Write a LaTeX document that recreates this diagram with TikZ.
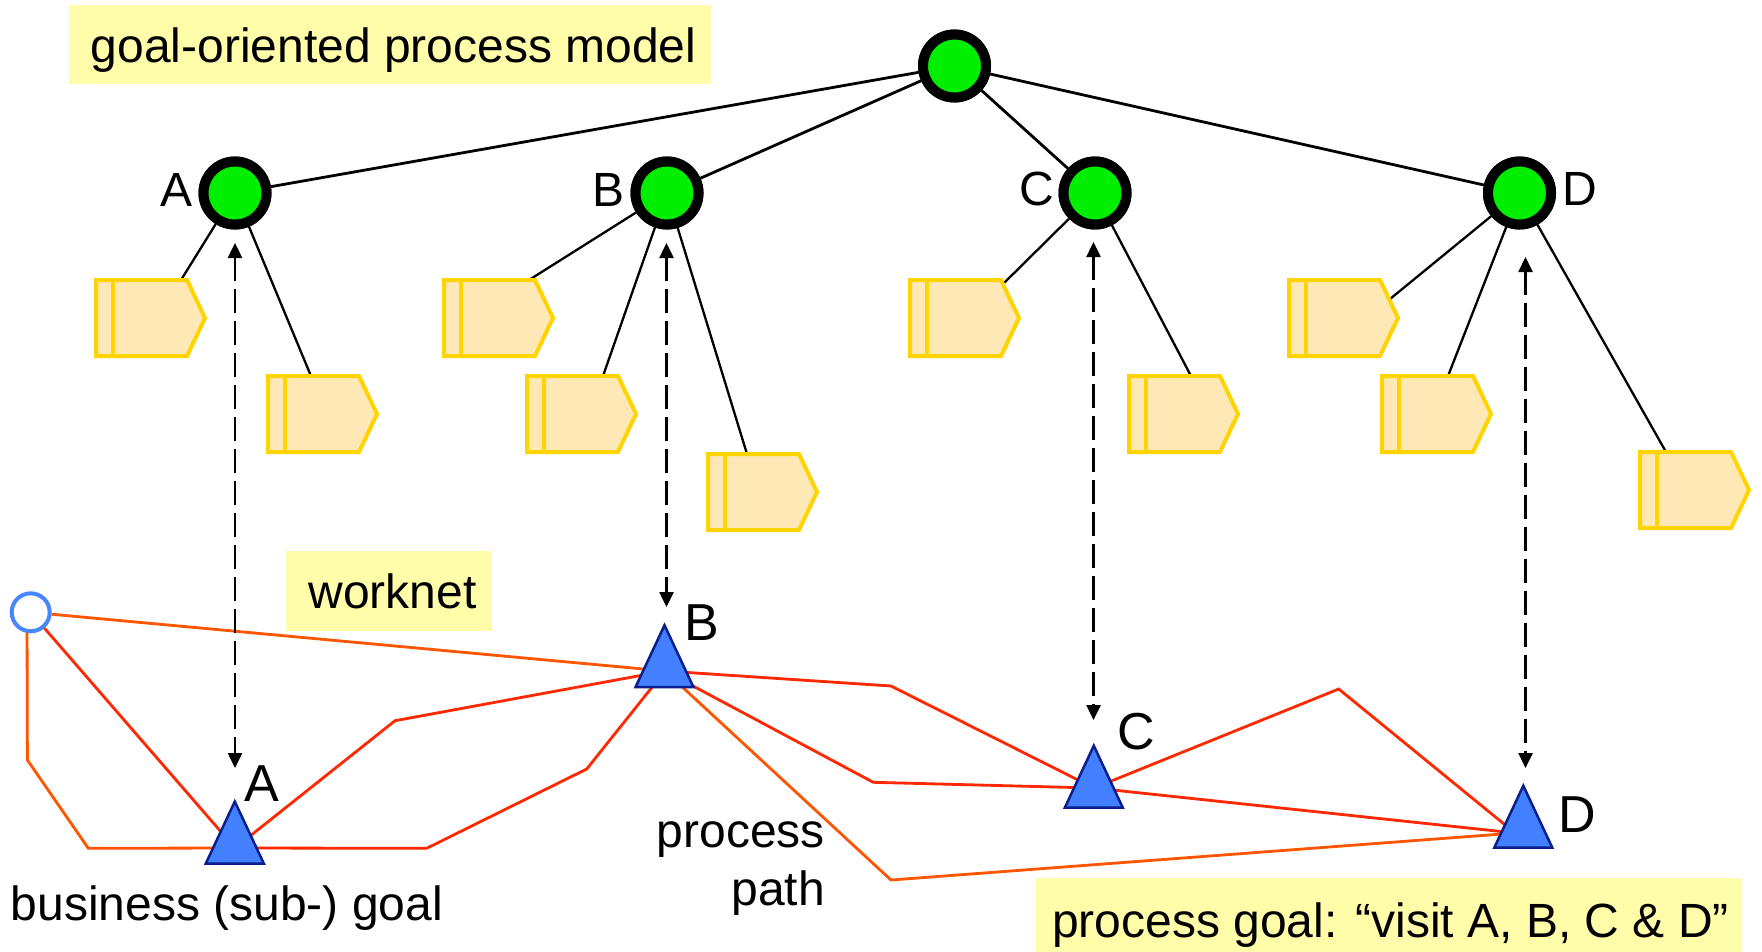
\documentclass[tikz,border=0pt]{standalone}
\usepackage{fontspec}
\setmainfont{Liberation Sans}
\usetikzlibrary{arrows.meta,calc}
\definecolor{gfill}{RGB}{0,238,0}
\definecolor{yfill}{RGB}{253,232,182}
\definecolor{ystrokec}{RGB}{255,212,0}
\definecolor{boxy}{RGB}{255,252,170}
\definecolor{tfill}{RGB}{66,128,255}
\definecolor{tdraw}{RGB}{10,30,140}
\definecolor{wred}{RGB}{255,40,0}
\definecolor{wora}{RGB}{255,85,0}
\definecolor{cblue}{RGB}{70,135,255}
\begin{document}
\begin{tikzpicture}[x=1pt,y=-1pt,
  goal/.style={circle, draw=black, line width=10pt, fill=gfill, minimum size=63pt, inner sep=0pt},
  rootedge/.style={line width=2.8pt, black},
  subedge/.style={line width=2.3pt, black},
  yshape/.style={rectangle, minimum width=109pt, minimum height=76pt, inner sep=0pt, outer sep=0pt},
  ypoly/.style={line width=4pt, draw=ystrokec, fill=yfill, line join=miter},
  yline/.style={line width=4pt, draw=ystrokec},
  startc/.style={circle, draw=cblue, fill=white, line width=4pt, minimum size=38pt, inner sep=0pt},
  redline/.style={line width=2.8pt, wred},
  oraline/.style={line width=2.8pt, wora},
  dasharrow/.style={line width=2.5pt, dash pattern=on 24pt off 8pt,
     {Triangle[length=15pt,width=14pt]}-{Triangle[length=15pt,width=14pt]}},
  goaltri/.pic={\draw[line width=2.5pt, draw=tdraw, fill=tfill, line join=miter] (0,-31) -- (29,31) -- (-29,31) -- cycle;},
  ybox/.style={rectangle, fill=boxy, inner sep=0pt},
  txt/.style={font=\fontsize{48}{58}\selectfont, inner sep=0pt},
  lab/.style={font=\fontsize{48}{58}\selectfont, inner sep=0pt, anchor=base},
  blab/.style={font=\fontsize{52}{60}\selectfont, inner sep=0pt, anchor=base}
]
\useasboundingbox (0,0) rectangle (1762,951);

% yellow boxes
\node[ybox, minimum width=642pt, minimum height=79pt] (titlebox) at (390,44) {};
\node[ybox, minimum width=206pt, minimum height=80pt] (wbox) at (389,591) {};
\node[ybox, minimum width=706pt, minimum height=74pt] (pgbox) at (1389,915) {};

% goal tree nodes
\node[goal] (r) at (954.5,66) {};
\node[goal] (gA) at (235,193) {};
\node[goal] (gB) at (667,193) {};
\node[goal] (gC) at (1095,193) {};
\node[goal] (gD) at (1519.5,193) {};

% process shapes (placeholders)
\foreach \n/\x/\y in {s1/94/278, s2/266/374, s3/442/278, s4/525/374, s5/706/452,
                      s6/908/278, s7/1127/374, s8/1287/278, s9/1380/374, s10/1638/450}
  {\node[yshape] (\n) at (\x+56.5,\y+40) {};}

\coordinate (e1) at ($(s1.north west)+(85,0)$);
\coordinate (e2) at ($(s2.north west)+(43,0)$);
\coordinate (e3) at ($(s3.north west)+(85,0)$);
\coordinate (e4) at ($(s4.north west)+(76,0)$);
\coordinate (e5) at ($(s5.north west)+(39,0)$);
\coordinate (e6) at ($(s6.north west)+(94,3)$);
\coordinate (e7) at ($(s7.north west)+(62,0)$);
\coordinate (e8) at ($(s8.north west)+(101,19)$);
\coordinate (e9) at ($(s9.north west)+(66,0)$);
\coordinate (e10) at ($(s10.north west)+(26,0)$);

% tree edges
\draw[rootedge] (r) -- (gA);
\draw[rootedge] (r) -- (gB);
\draw[rootedge] (r) -- (gC);
\draw[rootedge] (r) -- (gD);
\draw[subedge] (gA) -- (e1);
\draw[subedge] (gA) -- (e2);
\draw[subedge] (gB) -- (e3);
\draw[subedge] (gB) -- (e4);
\draw[subedge] (gB) -- (e5);
\draw[subedge] (gC) -- (e6);
\draw[subedge] (gC) -- (e7);
\draw[subedge] (gD) -- (e8);
\draw[subedge] (gD) -- (e9);
\draw[subedge] (gD) -- (e10);

% process shapes drawn
\foreach \n in {s1,s2,s3,s4,s5,s6,s7,s8,s9,s10}{
  \draw[ypoly] (\n.north west) -- ($(\n.north east)+(-18,0)$) -- (\n.east)
     -- ($(\n.south east)+(-18,0)$) -- (\n.south west) -- cycle;
  \draw[yline] ($(\n.north west)+(17,0)$) -- ($(\n.south west)+(17,0)$);
}

% redraw goal nodes on top of edges
\node[goal] at (r) {};
\node[goal] at (gA) {};
\node[goal] at (gB) {};
\node[goal] at (gC) {};
\node[goal] at (gD) {};

% worknet
\node[startc] (c0) at (30.7,612.3) {};
\coordinate (pA) at (235,848);
\coordinate (pB) at (665,671);
\coordinate (pC) at (1094,788);
\coordinate (pD) at (1515,833);
\coordinate (k1) at (27.4,760);
\coordinate (k2) at (88.3,848.3);
\coordinate (k3) at (426.7,848.3);
\coordinate (k4) at (586.7,769);
\coordinate (k5) at (395,720.7);
\coordinate (k6) at (891,686);
\coordinate (k7) at (873.3,782.3);
\coordinate (k8) at (891,880);
\coordinate (k9) at (1338.7,689);

\draw[oraline] (c0) -- (pB);
\draw[redline] (pB) -- (k6) -- (pC);
\draw[redline] (c0) -- (pA);
\draw[oraline] (c0.-100) -- (k1) -- (k2) -- (pA);
\draw[redline] (pA) -- (k3) -- (k4) -- (pB);
\draw[redline] (pA) -- (k5) -- (pB);
\draw[redline] (pB) -- (k7) -- (pC);
\draw[oraline] (pB) -- (k8) -- (pD);
\draw[redline] (pC) -- (k9) -- (pD);
\draw[redline] (pC) -- (pD);

\pic (tA) at (234.8,832.5) {goaltri};
\pic (tB) at (664.5,656.2) {goaltri};
\pic (tC) at (1093.8,776.7) {goaltri};
\pic (tD) at (1523.3,816.7) {goaltri};

% mapping arrows
\coordinate (aAt) at (235,243);   \coordinate (aAb) at (235,768);
\coordinate (aBt) at (666.5,243); \coordinate (aBb) at (666.5,607);
\coordinate (aCt) at (1093.5,242);\coordinate (aCb) at (1093.5,720);
\coordinate (aDt) at (1525.5,257);\coordinate (aDb) at (1525.5,768);
\draw[dasharrow] (aAt) -- (aAb);
\draw[dasharrow] (aBt) -- (aBb);
\draw[dasharrow] (aCt) -- (aCb);
\draw[dasharrow] (aDt) -- (aDb);

% labels
\node[lab] (lA) at (177,206) {A};
\node[lab] (lB) at (609,206) {B};
\node[lab] (lC) at (1037,205) {C};
\node[lab] (lD) at (1580,205) {D};
\node[blab] (bA) at (261.5,801) {A};
\node[blab] (bB) at (701.5,640) {B};
\node[blab] (bC) at (1136,749) {C};
\node[blab] (bD) at (1577.5,832) {D};

% texts
\node[txt, anchor=base] (title) at (393.6,62) {goal-oriented process model};
\node[txt, anchor=base] (wtxt) at (392.5,608) {worknet};
\node[txt, anchor=base] (bsg) at (227,920) {business (sub-) goal};
\node[txt, anchor=base east, align=right] (pp) at (825,905) {process\\path};
\node[txt, anchor=base] (pg) at (1390.5,937) {process goal: “visit A, B, C \& D”};
\end{tikzpicture}
\end{document}
